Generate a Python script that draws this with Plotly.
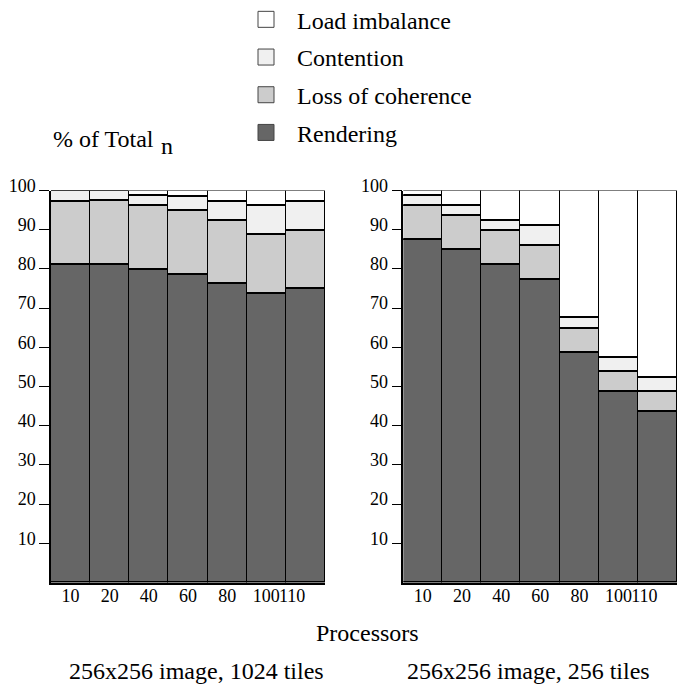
import plotly.graph_objects as go

# ---------------- data ----------------
processors = ["10", "20", "40", "60", "80", "100", "110"]

# Left panel: 256x256 image, 1024 tiles (percent of total time)
left_rendering = [81.0, 81.0, 79.8, 78.6, 76.2, 73.6, 74.9]
left_coherence = [16.3, 16.5, 16.4, 16.3, 16.1, 15.1, 14.9]
left_contention = [2.7, 2.5, 2.5, 3.6, 5.0, 7.6, 7.5]
left_imbalance = [0.0, 0.0, 1.3, 1.5, 2.7, 3.7, 2.7]

# Right panel: 256x256 image, 256 tiles
right_rendering = [87.4, 84.9, 81.0, 77.4, 58.7, 48.7, 43.6]
right_coherence = [8.8, 8.7, 8.8, 8.6, 6.1, 5.1, 5.1]
right_contention = [2.5, 2.7, 2.5, 5.2, 2.7, 3.6, 3.7]
right_imbalance = [1.3, 3.7, 7.7, 8.8, 32.5, 42.6, 47.6]

series_names = ["Rendering", "Loss of coherence", "Contention", "Load imbalance"]
y_ticks = [10, 20, 30, 40, 50, 60, 70, 80, 90, 100]
panel_titles = ["256x256 image, 1024 tiles", "256x256 image, 256 tiles"]

# ---------------- style ----------------
colors = {
    "Rendering": "#666666",
    "Loss of coherence": "#cccccc",
    "Contention": "#f0f0f0",
    "Load imbalance": "#ffffff",
}
FONT = "Liberation Serif"
W, H = 681, 692

left = dict(zip(series_names, [left_rendering, left_coherence, left_contention, left_imbalance]))
right = dict(zip(series_names, [right_rendering, right_coherence, right_contention, right_imbalance]))

pos = list(range(len(processors)))
tick_pos = pos[:-1] + [pos[-2] + 0.66]

fig = go.Figure()
for data, xa, ya in [(left, "x", "y"), (right, "x2", "y2")]:
    for name in series_names:
        fig.add_trace(go.Bar(
            x=pos, y=data[name], xaxis=xa, yaxis=ya, name=name,
            width=1.0, showlegend=False,
            marker=dict(color=colors[name], line=dict(color="black", width=1.3)),
        ))

# legend entries (top to bottom)
for name in reversed(series_names):
    fig.add_trace(go.Scatter(
        x=[None], y=[None], mode="markers", name=name, legendgroup=name,
        marker=dict(symbol="square", size=16, color=colors[name],
                    line=dict(color="#444444", width=1)),
        showlegend=True,
    ))

ydom = [(H - 582.5) / H, (H - 190.5) / H]
xdom1 = [51 / W, 325 / W]
xdom2 = [403.3 / W, 677.3 / W]

yax = dict(range=[0, 100], tickvals=y_ticks, ticks="outside", ticklen=10, tickwidth=1.3,
           tickcolor="black", showline=True, linewidth=1.5, linecolor="black",
           showgrid=False, zeroline=False, ticklabelshift=-5, ticklabelstandoff=0,
           automargin=False,
           tickfont=dict(family=FONT, size=18, color="black"), domain=ydom, fixedrange=True)
xax = dict(range=[-0.5, 6.5], tickvals=tick_pos, ticktext=processors, ticks="",
           tickangle=0, automargin=False, ticklabelstandoff=-4,
           showline=True, linewidth=1.5, linecolor="black", showgrid=False, zeroline=False,
           tickfont=dict(family=FONT, size=18, color="black"), fixedrange=True)

fig.update_layout(
    width=W, height=H, margin=dict(l=0, r=0, t=0, b=0, autoexpand=False),
    paper_bgcolor="white", plot_bgcolor="white",
    barmode="stack", bargap=0,
    font=dict(family=FONT, size=24, color="black"),
    xaxis=dict(xax, domain=xdom1, anchor="y"),
    yaxis=dict(yax, anchor="x"),
    xaxis2=dict(xax, domain=xdom2, anchor="y2"),
    yaxis2=dict(yax, anchor="x2"),
    legend=dict(x=235 / W, y=1.004, xanchor="left", yanchor="top",
                bgcolor="rgba(0,0,0,0)", itemwidth=52, tracegroupgap=3.5,
                traceorder="grouped", font=dict(family=FONT, size=24, color="black")),
    annotations=[
        dict(text="% of Total", x=51 / W, y=(H - 138.5) / H, xref="paper", yref="paper",
             xanchor="left", yanchor="middle", showarrow=False),
        dict(text="n", x=159 / W, y=(H - 146) / H, xref="paper", yref="paper",
             xanchor="left", yanchor="middle", showarrow=False),
        dict(text="Processors", x=367 / W, y=(H - 633) / H, xref="paper", yref="paper",
             xanchor="center", yanchor="middle", showarrow=False),
        dict(text=panel_titles[0], x=196 / W, y=(H - 671.3) / H, xref="paper", yref="paper",
             xanchor="center", yanchor="middle", showarrow=False),
        dict(text=panel_titles[1], x=528 / W, y=(H - 671.3) / H, xref="paper", yref="paper",
             xanchor="center", yanchor="middle", showarrow=False),
    ],
)

fig.write_html("out.html")
